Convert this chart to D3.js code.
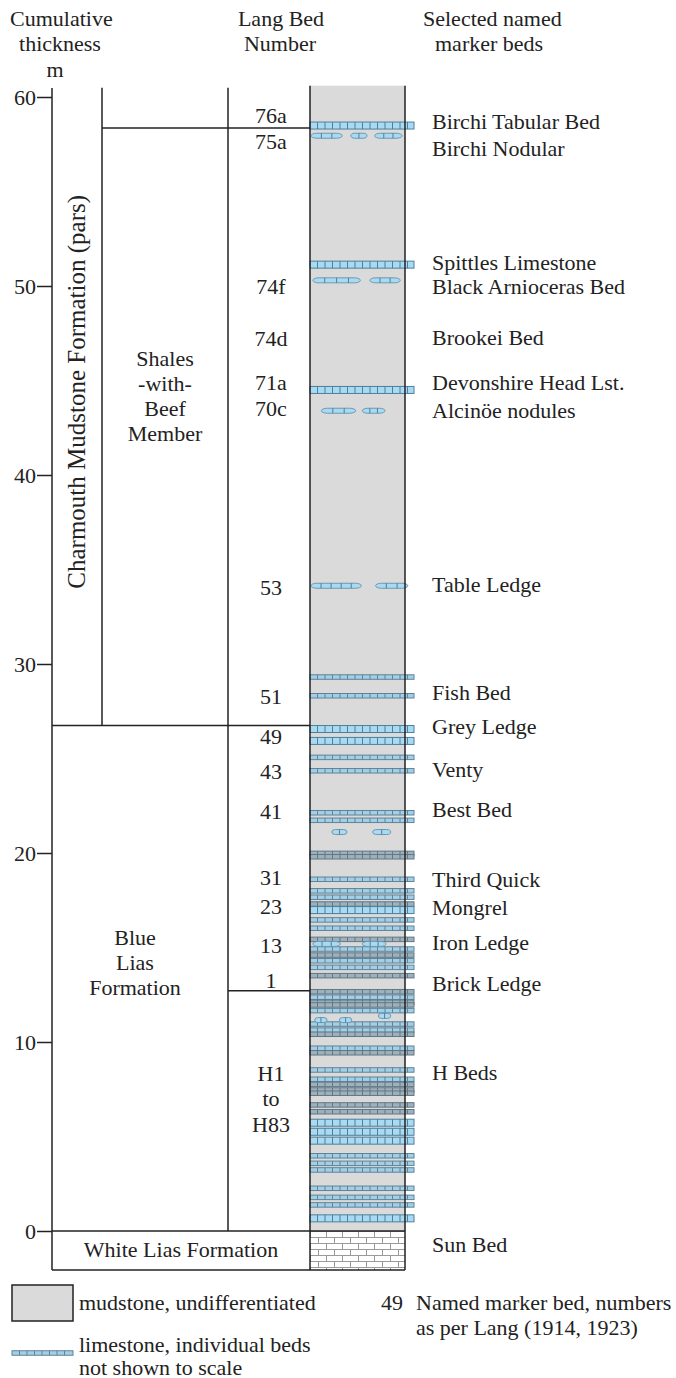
<!DOCTYPE html>
<html><head><meta charset="utf-8">
<script src="https://cdn.jsdelivr.net/npm/d3@7"></script>
<style>
body{margin:0;background:#fff}
text{font-family:"Liberation Serif", "Times New Roman", Times, serif;}
</style>
</head><body>
<svg id="c" width="676" height="1378"></svg>
<script>
// ---------- DATA (metres of cumulative thickness) ----------
const tickValues = [0, 10, 20, 30, 40, 50, 60];

const langBedLabels  = ["76a","75a","74f","74d","71a","70c","53","51","49","43","41","31","23","13","1"];
const langBedHeights = [59.0,57.67,49.95,47.20,44.87,43.54,34.07,28.27,26.19,24.30,22.19,18.71,17.16,15.13,13.24];

const markerNames = ["Birchi Tabular Bed","Birchi Nodular","Spittles Limestone","Black Arnioceras Bed",
  "Brookei Bed","Devonshire Head Lst.","Alcinöe nodules","Table Ledge","Fish Bed","Grey Ledge","Venty",
  "Best Bed","Third Quick","Mongrel","Iron Ledge","Brick Ledge","H Beds","Sun Bed"];
const markerHeights = [58.68,57.30,51.22,49.95,47.25,44.87,43.40,34.23,28.47,26.67,24.44,22.28,18.62,17.14,15.29,13.07,8.36,-0.74];

// limestone beds: height (m) and kind (t = tabular, b = thin bed, d = thin dark bed)
const bedHeights = [58.49,51.13,44.5,29.31,28.32,26.56,25.93,25.06,24.35,22.13,21.73,19.98,19.80,18.61,18.0,17.66,17.30,16.98,
  16.46,16.02,15.43,14.92,14.60,14.30,13.95,13.51,12.66,12.37,12.10,11.96,11.66,10.95,10.63,10.41,9.67,9.43,8.52,8.03,7.76,
  7.46,7.29,6.67,6.31,5.73,5.25,4.78,3.98,3.58,3.23,2.26,1.78,1.38,0.67];
const bedKinds   = ["t","t","t","b","b","t","t","b","b","b","b","d","d","b","b","b","d","t",
  "b","b","d","b","d","b","b","d","d","b","d","d","b","b","b","d","b","d","b","b","d",
  "d","d","d","d","t","t","t","b","b","b","b","b","b","t"];

// nodular horizons: height (m) and nodule extents (fraction of column width)
const noduleHeights = [57.95, 50.30, 43.4, 34.14, 21.11, 15.19, 11.38, 11.16];
const noduleExtents = [
  [[0.01,0.34],[0.43,0.60],[0.68,0.97]],
  [[0.03,0.53],[0.63,0.95]],
  [[0.12,0.48],[0.55,0.79]],
  [[0.01,0.54],[0.69,1.03]],
  [[0.23,0.39],[0.66,0.85]],
  [[0.03,0.32],[0.55,0.80]],
  [[0.72,0.85]],
  [[0.05,0.18],[0.31,0.44]]
];

// unit boundaries (m)
const columnTop = 60.6, memberTop = 58.36, shalesBase = 26.74, hBedsTop = 12.71, whiteLiasBase = -2.06;

// ---------- DRAWING ----------
const svg = d3.select("#c");
const FS = 22;
const y = d3.scaleLinear().domain([0, 60]).range([1231, 97]);

const X = {axis: 52, member: 102, lang: 228, colL: 310, colR: 405, bedR: 414};
const ink = "#222";

// defs: brick pattern
const defs = svg.append("defs");
const pat = defs.append("pattern").attr("id","brick").attr("patternUnits","userSpaceOnUse")
  .attr("x", X.colL).attr("y", y(0)).attr("width", 16).attr("height", 12);
pat.append("rect").attr("width",16).attr("height",12).attr("fill","#fff");
pat.append("path").attr("d","M0,0.5H16M0,6.5H16M0.5,0V6.5M8.5,6.5V12")
  .attr("stroke","#9a9a9a").attr("stroke-width",1).attr("fill","none");

// column fill
svg.append("rect").attr("x", X.colL).attr("y", y(columnTop)).attr("width", X.colR - X.colL)
  .attr("height", y(0) - y(columnTop)).attr("fill", "#dadada");
svg.append("rect").attr("x", X.colL).attr("y", y(0)).attr("width", X.colR - X.colL)
  .attr("height", y(whiteLiasBase) - y(0)).attr("fill", "url(#brick)");

// beds
const bedStyle = {
  t: {h: 7,   fill: "#a9daf3", stroke: "#4f7f9a"},
  b: {h: 4.5, fill: "#a3cfe6", stroke: "#5f8398"},
  d: {h: 4.5, fill: "#9db1bc", stroke: "#627785"}
};
const beds = bedHeights.map((m, i) => ({m, k: bedKinds[i]}));
const bedG = svg.append("g");
beds.forEach(b => {
  const s = bedStyle[b.k];
  const yc = y(b.m), x0 = X.colL, x1 = X.bedR;
  const g = bedG.append("g");
  g.append("rect").attr("x", x0).attr("y", yc - s.h/2).attr("width", x1 - x0).attr("height", s.h)
    .attr("fill", s.fill).attr("stroke", s.stroke).attr("stroke-width", 1);
  const cells = d3.range(x0 + 7.5, x1 - 1, 7.5);
  g.selectAll("line").data(cells).join("line")
    .attr("x1", d => d).attr("x2", d => d).attr("y1", yc - s.h/2).attr("y2", yc + s.h/2)
    .attr("stroke", s.stroke).attr("stroke-width", 1);
});

// nodules
const colW = X.colR - X.colL;
noduleHeights.forEach((m, i) => {
  const yc = y(m);
  const h = 5;
  noduleExtents[i].forEach(([a, b]) => {
    const x0 = X.colL + a * colW, x1 = X.colL + b * colW;
    const g = svg.append("g");
    g.append("rect").attr("x", x0).attr("y", yc - h/2).attr("width", x1 - x0).attr("height", h)
      .attr("rx", Math.min(6, (x1 - x0) / 4)).attr("ry", h/2)
      .attr("fill", "#a9daf3").attr("stroke", "#6f98b0").attr("stroke-width", 1);
    const n = Math.max(1, Math.round((x1 - x0) / 14));
    d3.range(1, n + 1).forEach(j => {
      const xx = x0 + (x1 - x0) * j / (n + 1);
      g.append("line").attr("x1", xx).attr("x2", xx).attr("y1", yc - h/2).attr("y2", yc + h/2)
        .attr("stroke", "#4f7f9a").attr("stroke-width", 1);
    });
  });
});

// frame lines
const L = (x1, y1, x2, y2) => svg.append("line").attr("x1", x1).attr("y1", y1).attr("x2", x2).attr("y2", y2)
  .attr("stroke", ink).attr("stroke-width", 1.5);
const yTop = y(columnTop), yBase = y(whiteLiasBase);
L(X.axis, y(60) - 9, X.axis, yBase);
L(X.member, yTop + 2, X.member, y(shalesBase));
L(X.lang, yTop + 2, X.lang, y(0));
L(X.colL, yTop, X.colL, yBase);
L(X.colR, yTop, X.colR, yBase);
L(X.member, y(memberTop), X.colL, y(memberTop));
L(X.axis, y(shalesBase), X.colL, y(shalesBase));
L(X.lang, y(hBedsTop), X.colL, y(hBedsTop));
L(X.axis, y(0), X.colR, y(0));
L(X.axis, yBase, X.colR, yBase);

// axis
const axisG = svg.append("g").attr("transform", `translate(${X.axis},0)`)
  .call(d3.axisLeft(y).tickValues(tickValues).tickSize(15).tickPadding(1).tickFormat(d3.format("d")));
axisG.select(".domain").remove();
axisG.attr("font-family", null).attr("font-size", null);
axisG.selectAll(".tick line").attr("stroke", ink).attr("stroke-width", 1.5);
axisG.selectAll(".tick text").attr("font-size", FS).attr("fill", ink);

// text helper
const T = (txt, x, yy, anchor = "start", size = FS) => svg.append("text").attr("x", x).attr("y", yy)
  .attr("text-anchor", anchor).attr("dominant-baseline", "central")
  .attr("font-size", size).attr("fill", ink).text(txt);

// headers
T("Cumulative", 10, 18, "start");
T("thickness", 60, 43, "middle");
T("m", 55, 69, "middle");
T("Lang Bed", 281, 18, "middle");
T("Number", 280, 43, "middle");
T("Selected named", 423, 18, "start");
T("marker beds", 435, 43, "start");

// unit labels
svg.append("text").attr("transform", `translate(76,${y(44.4)}) rotate(-90)`)
  .attr("text-anchor", "middle").attr("dominant-baseline", "central")
  .attr("font-size", 25).attr("fill", ink)
  .text("Charmouth Mudstone Formation (pars)");
["Shales", "-with-", "Beef", "Member"].forEach((t, i) => T(t, 165, 358 + i * 25, "middle"));
["Blue", "Lias", "Formation"].forEach((t, i) => T(t, 135, 937 + i * 25, "middle"));
["H1", "to", "H83"].forEach((t, i) => T(t, 271, 1073 + i * 25.5, "middle"));
T("White Lias Formation", 181, y(-0.98), "middle");

// Lang bed numbers
langBedLabels.forEach((t, i) => T(t, 271, y(langBedHeights[i]), "middle"));

// marker bed names
markerNames.forEach((t, i) => T(t, 432, y(markerHeights[i]), "start"));

// legend
svg.append("rect").attr("x", 12).attr("y", 1285).attr("width", 61).attr("height", 36)
  .attr("fill", "#dadada").attr("stroke", ink).attr("stroke-width", 1.5);
T("mudstone, undifferentiated", 79, 1302);
{
  const s = bedStyle.b, yc = 1353, x0 = 12, x1 = 73;
  svg.append("rect").attr("x", x0).attr("y", yc - s.h/2).attr("width", x1 - x0).attr("height", s.h)
    .attr("fill", s.fill).attr("stroke", s.stroke).attr("stroke-width", 1);
  d3.range(x0 + 7.5, x1 - 1, 7.5).forEach(xx => svg.append("line").attr("x1", xx).attr("x2", xx)
    .attr("y1", yc - s.h/2).attr("y2", yc + s.h/2).attr("stroke", s.stroke));
}
T("limestone, individual beds", 79, 1344);
T("not shown to scale", 79, 1367);
T("49", 381, 1302);
T("Named marker bed, numbers", 416, 1302);
T("as per Lang (1914, 1923)", 416, 1327);
</script>
</body></html>
